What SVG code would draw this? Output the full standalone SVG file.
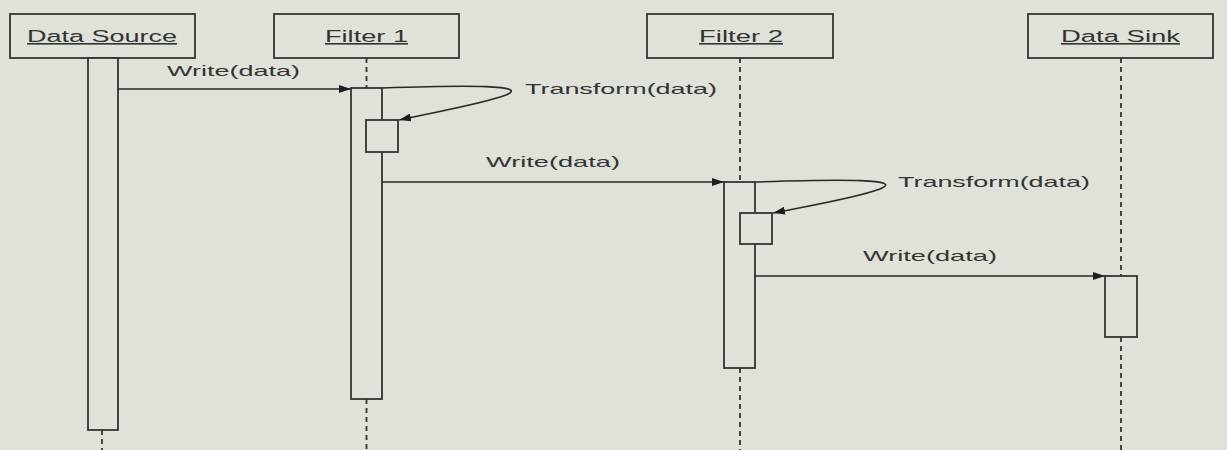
<svg xmlns="http://www.w3.org/2000/svg" width="1227" height="450" viewBox="0 0 1227 450">
<defs>
<marker id="ah" viewBox="0 0 12 8" refX="12" refY="4" markerWidth="12" markerHeight="8" markerUnits="userSpaceOnUse" orient="auto">
<path d="M0,0 L12,4 L0,8 Z" fill="#1e1e1e"/>
</marker>
<style>
.box{fill:none;stroke:#333;stroke-width:1.8}
.act{fill:#dfe2d9;stroke:#333;stroke-width:1.8}
.life{stroke:#333;stroke-width:1.8;stroke-dasharray:5,4;fill:none}
.msg{stroke:#2a2a2a;stroke-width:1.6;fill:none;marker-end:url(#ah)}
.lbl{font-family:"Liberation Sans",Arial,sans-serif;font-size:15px;fill:#333}
.name{font-family:"Liberation Sans",Arial,sans-serif;font-size:16px;fill:#333;text-decoration:underline}
</style>
</defs>
<rect x="0" y="0" width="1227" height="450" fill="#dfe2d9"/>

<g id="lifelines">
<line class="life" x1="102" y1="430" x2="102" y2="450"/>
<line class="life" x1="366.5" y1="58" x2="366.5" y2="88"/>
<line class="life" x1="366.5" y1="399" x2="366.5" y2="450"/>
<line class="life" x1="740" y1="58" x2="740" y2="182"/>
<line class="life" x1="740" y1="368" x2="740" y2="450"/>
<line class="life" x1="1121" y1="58" x2="1121" y2="276"/>
<line class="life" x1="1121" y1="337" x2="1121" y2="450"/>
</g>

<g id="data-source">
<rect class="box" x="10" y="14" width="185" height="44"/>
<text class="name" x="27" y="42" textLength="150" lengthAdjust="spacingAndGlyphs">Data Source</text>
<rect class="act" x="88" y="58" width="30" height="372"/>
</g>

<g id="filter-1">
<rect class="box" x="274" y="14" width="185" height="44"/>
<text class="name" x="325" y="42" textLength="83" lengthAdjust="spacingAndGlyphs">Filter 1</text>
<rect class="act" x="351" y="88" width="31" height="311"/>
<rect class="act" x="366" y="120" width="32" height="32"/>
</g>

<g id="filter-2">
<rect class="box" x="647" y="14" width="186" height="44"/>
<text class="name" x="699" y="42" textLength="84" lengthAdjust="spacingAndGlyphs">Filter 2</text>
<rect class="act" x="724" y="182" width="31" height="186"/>
<rect class="act" x="740" y="213" width="32" height="31"/>
</g>

<g id="data-sink">
<rect class="box" x="1028" y="14" width="185" height="44"/>
<text class="name" x="1061" y="42" textLength="119" lengthAdjust="spacingAndGlyphs">Data Sink</text>
<rect class="act" x="1105" y="276" width="32" height="61"/>
</g>

<g id="connectors">
<line class="msg" x1="118" y1="89" x2="351" y2="89"/>
<path class="msg" d="M382,88 C470,85 530,85 506,95 C482,104 435,112 399,120"/>
<line class="msg" x1="382" y1="182" x2="724" y2="182"/>
<path class="msg" d="M755,182 C845,179 905,179 880,189 C856,198 808,206 773,213"/>
<line class="msg" x1="755" y1="276" x2="1105" y2="276"/>
</g>

<g id="labels">
<text class="lbl" x="167" y="76" textLength="133" lengthAdjust="spacingAndGlyphs">Write(data)</text>
<text class="lbl" x="525" y="94" textLength="192" lengthAdjust="spacingAndGlyphs">Transform(data)</text>
<text class="lbl" x="486" y="167" textLength="134" lengthAdjust="spacingAndGlyphs">Write(data)</text>
<text class="lbl" x="898" y="187" textLength="192" lengthAdjust="spacingAndGlyphs">Transform(data)</text>
<text class="lbl" x="863" y="261" textLength="134" lengthAdjust="spacingAndGlyphs">Write(data)</text>
</g>
</svg>
